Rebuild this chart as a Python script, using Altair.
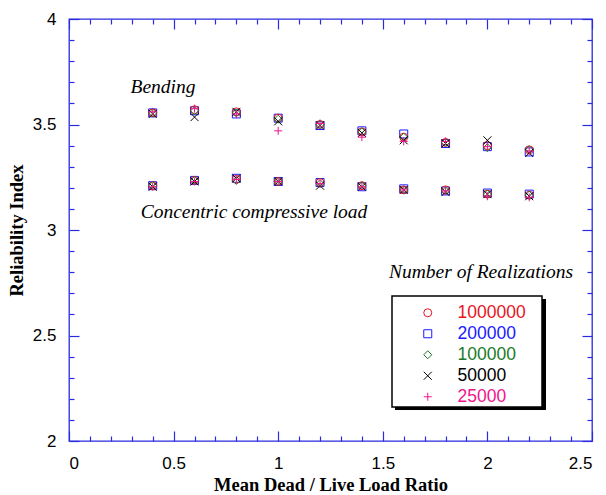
import altair as alt
import pandas as pd

ratio = [0.4, 0.6, 0.8, 1.0, 1.2, 1.4, 1.6, 1.8, 2.0, 2.2]
series = ["1000000", "200000", "100000", "50000", "25000"]

bending = {
    "1000000": [3.555, 3.570, 3.560, 3.530, 3.500, 3.465, 3.440, 3.415, 3.400, 3.380],
    "200000":  [3.555, 3.565, 3.550, 3.530, 3.495, 3.470, 3.455, 3.410, 3.395, 3.370],
    "100000":  [3.555, 3.565, 3.555, 3.525, 3.500, 3.465, 3.440, 3.415, 3.390, 3.380],
    "50000":   [3.550, 3.535, 3.560, 3.515, 3.495, 3.460, 3.425, 3.410, 3.425, 3.365],
    "25000":   [3.560, 3.575, 3.550, 3.470, 3.505, 3.440, 3.420, 3.420, 3.395, 3.375],
}
concentric = {
    "1000000": [3.210, 3.235, 3.240, 3.230, 3.225, 3.210, 3.190, 3.190, 3.170, 3.165],
    "200000":  [3.210, 3.235, 3.245, 3.230, 3.225, 3.205, 3.195, 3.185, 3.175, 3.170],
    "100000":  [3.210, 3.235, 3.235, 3.230, 3.220, 3.210, 3.190, 3.185, 3.170, 3.165],
    "50000":   [3.205, 3.230, 3.245, 3.230, 3.210, 3.205, 3.190, 3.180, 3.170, 3.160],
    "25000":   [3.205, 3.230, 3.240, 3.230, 3.220, 3.205, 3.190, 3.185, 3.160, 3.155],
}

notes = ["Bending", "Concentric compressive load", "Number of Realizations"]

x_major = [0, 0.5, 1, 1.5, 2, 2.5]
x_minor = [0.1, 0.2, 0.3, 0.4, 0.6, 0.7, 0.8, 0.9, 1.1, 1.2, 1.3, 1.4,
           1.6, 1.7, 1.8, 1.9, 2.1, 2.2, 2.3, 2.4]
y_major = [2, 2.5, 3, 3.5, 4]
y_minor = [2.1, 2.2, 2.3, 2.4, 2.6, 2.7, 2.8, 2.9, 3.1, 3.2, 3.3, 3.4,
           3.6, 3.7, 3.8, 3.9]

colors = ["#e8141e", "#1a1aff", "#1a7a2a", "#000000", "#f0148c"]
shapes = ["circle", "square", "diamond",
          "M-1,-1L1,1M-1,1L1,-1", "M-1,0L1,0M0,-1L0,1"]
draw_order = ["200000", "1000000", "100000", "50000", "25000"]

rows = []
for s in draw_order:
    for case, table in (("Bending", bending), ("Concentric", concentric)):
        for r, v in zip(ratio, table[s]):
            rows.append({"ratio": r, "beta": v, "n": s, "case": case})
df = pd.DataFrame(rows)
one = pd.DataFrame({"k": [0]})

W, H = 523, 422
AX = "#2a2ae0"

xs = alt.Scale(domain=[0, 2.5], nice=False, zero=False)
ys = alt.Scale(domain=[2, 4], nice=False, zero=False)

label_color = alt.ExprRef(expr=(
    "datum.value == '1000000' ? '#e8141e' : datum.value == '200000' ? '#1a1aff' : "
    "datum.value == '100000' ? '#1a7a2a' : datum.value == '50000' ? '#000000' : '#f0148c'"))

legend = alt.Legend(
    orient="none", legendX=323, legendY=277, title=None,
    labelFont="Liberation Sans", labelFontSize=17.5, labelColor=label_color,
    padding=8, symbolOffset=19, labelOffset=21, rowPadding=2, symbolSize=64,
    symbolStrokeWidth=1,
)

pts = alt.Chart(df).mark_point(filled=False, size=64, strokeWidth=1, opacity=1).encode(
    x=alt.X("ratio:Q", scale=xs, axis=alt.Axis(
        values=x_major, tickSize=10, offset=-10, domain=False, labelPadding=14,
        format="~g", title="Mean Dead / Live Load Ratio", titlePadding=4)),
    y=alt.Y("beta:Q", scale=ys, axis=alt.Axis(
        values=y_major, tickSize=10, offset=-10, domain=False, labelPadding=13,
        format="~g", title="Reliability Index", titlePadding=6)),
    color=alt.Color("n:N", scale=alt.Scale(domain=series, range=colors), legend=legend),
    shape=alt.Shape("n:N", scale=alt.Scale(domain=series, range=shapes), legend=legend),
)

def ghost(xvals, yvals, xorient, yorient, tsize):
    return alt.Chart(df).mark_point(opacity=0).encode(
        x=alt.X("ratio:Q", scale=xs, axis=alt.Axis(
            orient=xorient, values=xvals, tickSize=tsize, offset=-tsize,
            domain=False, labels=False, title=None)),
        y=alt.Y("beta:Q", scale=ys, axis=alt.Axis(
            orient=yorient, values=yvals, tickSize=tsize, offset=-tsize,
            domain=False, labels=False, title=None)),
    )

g1 = ghost(x_minor, y_minor, "bottom", "left", 5)
g2 = ghost(x_major, y_major, "top", "right", 10)
g3 = ghost(x_minor, y_minor, "top", "right", 5)

# legend frame with drop shadow
shadow = alt.Chart(one).mark_rect(color="black").encode(
    x=alt.value(326), x2=alt.value(477), y=alt.value(280), y2=alt.value(391))
box = alt.Chart(one).mark_rect(fill="white", stroke="black", strokeWidth=1.5).encode(
    x=alt.value(323), x2=alt.value(473), y=alt.value(277), y2=alt.value(388))

def note(txt, x, y):
    return alt.Chart(one).mark_text(
        text=txt, font="Liberation Serif", fontStyle="italic", fontSize=19.5,
        align="center", baseline="middle", color="black").encode(
        x=alt.value(x), y=alt.value(y))

t1 = note(notes[0], 94, 68)
t2 = note(notes[1], 185, 193)
t3 = note(notes[2], 412, 253)

chart = alt.layer(shadow, box, pts, g1, g2, g3, t1, t2, t3).resolve_axis(
    x="independent", y="independent"
).properties(
    width=W, height=H, background="white",
    autosize=alt.AutoSizeParams(type="none"),
    padding={"left": 69, "top": 19, "right": 14, "bottom": 54},
).configure_view(stroke=AX, strokeWidth=1.3).configure_axis(
    grid=False, tickColor=AX, tickWidth=1.2,
    labelFont="Liberation Sans", labelFontSize=17, labelColor="black",
    titleFont="Liberation Serif", titleFontSize=18.5, titleFontWeight="bold",
    titleColor="black",
)

chart.save("out.html", embed_options={"renderer": "svg", "actions": False})
